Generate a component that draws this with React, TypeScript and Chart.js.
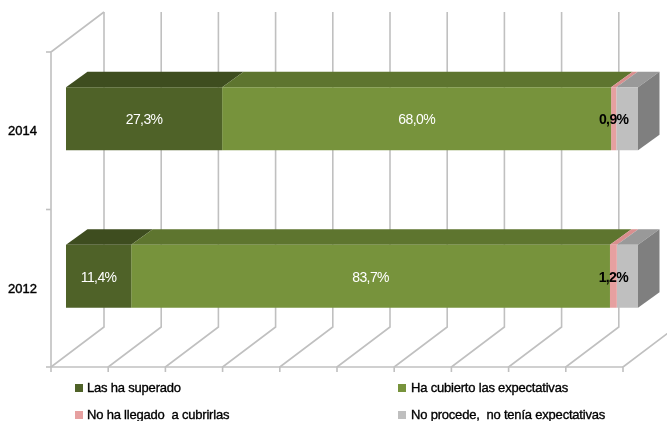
import React, { useEffect, useRef } from "react";
import { Chart, registerables } from "chart.js";

Chart.register(...registerables);

const years = ["2014", "2012"];
const superado = [27.3, 11.4];
const cubierto = [68.0, 83.7];
const noLlegado = [0.9, 1.2];
const noProcede = [3.8, 3.7];
const seriesNames = [
  "Las ha superado",
  "Ha cubierto las expectativas",
  "No ha llegado  a cubrirlas",
  "No procede,  no tenía expectativas",
];
const frontColors = ["#4F6228", "#77933C", "#E6A0A0", "#BFBFBF"];
const topColors = ["#3E4D1F", "#5E752F", "#D98F8F", "#999999"];
const labelColors = ["#FFFFFF", "#FFFFFF", "#000000", null];
const labelFonts = ["14px", "14px", "bold 14px", ""];
const sideColor = "#7F7F7F";
const wallColor = "#C0C0C0";

const FONT = '"Liberation Sans", Arial, sans-serif';
const DEPTH_X = 21.5;
const DEPTH_Y = 15.5;

const walls = {
  id: "walls",
  beforeDatasetsDraw(chart: any) {
    const { ctx, scales } = chart;
    const x = scales.x;
    const backShift = 38;
    const frontShift = -15;
    const frontTop = 52;
    const frontBottom = 367;
    const backTop = 12;
    const backBottom = 327;
    ctx.save();
    ctx.strokeStyle = wallColor;
    ctx.lineWidth = 1.6;
    x.ticks.forEach((t: any, i: number) => {
      const px = x.getPixelForValue(t.value);
      ctx.beginPath();
      ctx.moveTo(px + backShift, backTop);
      ctx.lineTo(px + backShift, backBottom);
      ctx.lineTo(px + frontShift, frontBottom);
      ctx.lineTo(px + frontShift, frontBottom + 5);
      ctx.stroke();
      if (i === 0) {
        ctx.beginPath();
        ctx.moveTo(px + backShift, backTop);
        ctx.lineTo(px + frontShift, frontTop);
        ctx.lineTo(px + frontShift, frontBottom);
        ctx.stroke();
        [frontTop, (frontTop + frontBottom) / 2, frontBottom].forEach((yy) => {
          ctx.beginPath();
          ctx.moveTo(px + frontShift - 5, yy);
          ctx.lineTo(px + frontShift, yy);
          ctx.stroke();
        });
      }
    });
    ctx.beginPath();
    ctx.moveTo(x.getPixelForValue(0) + frontShift, frontBottom);
    ctx.lineTo(x.getPixelForValue(100) + frontShift, frontBottom);
    ctx.stroke();

    chart.data.datasets.forEach((ds: any, di: number) => {
      chart.getDatasetMeta(di).data.forEach((bar: any) => {
        const p = bar.getProps(["x", "y", "base", "height"], true);
        const top = p.y - p.height / 2;
        const bottom = p.y + p.height / 2;
        ctx.fillStyle = topColors[di];
        ctx.beginPath();
        ctx.moveTo(p.base, top);
        ctx.lineTo(p.base + DEPTH_X, top - DEPTH_Y);
        ctx.lineTo(p.x + DEPTH_X, top - DEPTH_Y);
        ctx.lineTo(p.x, top);
        ctx.closePath();
        ctx.fill();
        if (di === chart.data.datasets.length - 1) {
          ctx.fillStyle = sideColor;
          ctx.beginPath();
          ctx.moveTo(p.x, top);
          ctx.lineTo(p.x + DEPTH_X, top - DEPTH_Y);
          ctx.lineTo(p.x + DEPTH_X, bottom - DEPTH_Y);
          ctx.lineTo(p.x, bottom);
          ctx.closePath();
          ctx.fill();
        }
      });
    });
    ctx.restore();
  },
};

const annotations = {
  id: "annotations",
  afterDatasetsDraw(chart: any) {
    const { ctx } = chart;
    ctx.save();
    ctx.textAlign = "center";
    ctx.textBaseline = "middle";
    ctx.letterSpacing = "-0.6px";
    chart.data.datasets.forEach((ds: any, di: number) => {
      const color = labelColors[di];
      if (!color) return;
      ctx.fillStyle = color;
      ctx.font = `${labelFonts[di]} ${FONT}`;
      chart.getDatasetMeta(di).data.forEach((bar: any, i: number) => {
        const p = bar.getProps(["x", "y", "base"], true);
        const text = ds.data[i].toFixed(1).replace(".", ",") + "%";
        ctx.fillText(text, (p.x + p.base) / 2, p.y + 1.5);
      });
    });
    ctx.restore();
  },
  afterDraw(chart: any) {
    const { ctx } = chart;
    const cols = [75, 398];
    const rows = [388, 415];
    ctx.save();
    ctx.font = `13px ${FONT}`;
    ctx.letterSpacing = "-0.2px";
    ctx.textAlign = "left";
    ctx.textBaseline = "middle";
    ctx.lineWidth = 0.35;
    ctx.strokeStyle = "#000000";
    chart.data.datasets.forEach((ds: any, di: number) => {
      const cx = cols[di % 2];
      const cy = rows[Math.floor(di / 2)];
      ctx.fillStyle = frontColors[di];
      ctx.fillRect(cx, cy - 4, 8, 8);
      ctx.fillStyle = "#000000";
      const tx = cx + (di % 2 ? 13 : 12);
      ctx.fillText(ds.label, tx, cy);
      ctx.strokeText(ds.label, tx, cy);
    });
    ctx.restore();
  },
};

export default function App() {
  const ref = useRef<HTMLCanvasElement>(null);
  useEffect(() => {
    const values = [superado, cubierto, noLlegado, noProcede];
    const chart = new Chart(ref.current as HTMLCanvasElement, {
      type: "bar",
      data: {
        labels: years,
        datasets: values.map((data, i) => ({
          label: seriesNames[i],
          data,
          backgroundColor: frontColors[i],
          borderWidth: 0,
          barPercentage: 0.4,
          categoryPercentage: 1,
        })),
      },
      options: {
        indexAxis: "y",
        responsive: false,
        animation: false,
        layout: { padding: { top: 40, bottom: 66, right: 29, left: 0 } },
        plugins: { legend: { display: false }, tooltip: { enabled: false } },
        scales: {
          x: {
            stacked: true,
            min: 0,
            max: 100,
            afterFit: (axis: any) => {
              axis.height = 0;
            },
            ticks: { display: false, stepSize: 10 },
            grid: { display: false },
            border: { display: false },
          },
          y: {
            stacked: true,
            grid: { display: false },
            border: { display: false },
            afterFit: (axis: any) => {
              axis.width = 66;
            },
            ticks: {
              color: "#000000",
              padding: 21,
              labelOffset: 13,
              textStrokeColor: "#000000",
              textStrokeWidth: 0.4,
              font: { family: FONT, size: 13 },
            },
          },
        },
      },
      plugins: [walls, annotations],
    } as any);
    return () => chart.destroy();
  }, []);
  return (
    <div style={{ position: "fixed", left: 0, top: 0, width: 667, height: 421, background: "#fff" }}>
      <canvas ref={ref} width={667} height={421} style={{ display: "block" }} />
    </div>
  );
}
